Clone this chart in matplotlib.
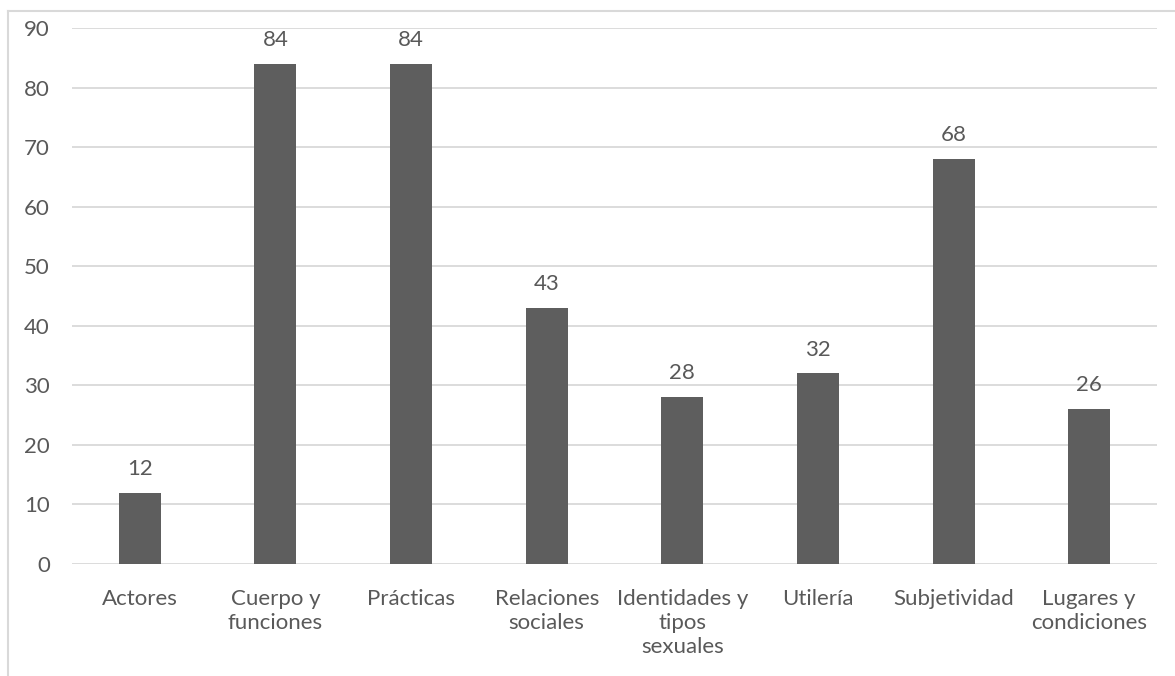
import matplotlib.pyplot as plt
from matplotlib.lines import Line2D

# Categorias y conteos
categorias = ["Actores", "Cuerpo y\nfunciones", "Prácticas", "Relaciones\nsociales",
              "Identidades y\ntipos\nsexuales", "Utilería", "Subjetividad",
              "Lugares y\ncondiciones"]
valores = [12, 84, 84, 43, 28, 32, 68, 26]
y_ticks = list(range(0, 100, 10))

GRIS = "#595959"
BARRA = "#5e5e5e"
LINEA = "#d9d9d9"

plt.rcParams['font.family'] = ['Lato', 'DejaVu Sans']

fig = plt.figure(figsize=(11.75, 6.76), dpi=100)
ax = fig.add_axes([0.0613, 0.1657, 0.9234, 0.7929])

x = range(len(categorias))
barras = ax.bar(x, valores, width=0.31, color=BARRA, zorder=3)
ax.bar_label(barras, labels=[str(v) for v in valores], padding=10,
             fontsize=16, color=GRIS)

ax.set_xlim(-0.5, len(categorias) - 0.5)
ax.set_ylim(0, 90)
ax.set_yticks(y_ticks)
ax.set_xticks(list(x))
ax.set_xticklabels(categorias, linespacing=1.25)
ax.tick_params(axis='both', length=0, labelsize=16, colors=GRIS)
ax.tick_params(axis='x', pad=18)
ax.tick_params(axis='y', pad=16)

ax.grid(axis='y', color=LINEA, linewidth=1.3, zorder=0)
for s in ax.spines.values():
    s.set_visible(False)

# Marco del grafico (solo borde izquierdo y superior visibles)
fig.add_artist(Line2D([8 / 1175, 8 / 1175], [0, 1 - 11 / 676], transform=fig.transFigure,
                      color=LINEA, linewidth=1.5))
fig.add_artist(Line2D([8 / 1175, 1], [1 - 11 / 676, 1 - 11 / 676], transform=fig.transFigure,
                      color=LINEA, linewidth=1.5))

fig.savefig("out.png", dpi=100)
